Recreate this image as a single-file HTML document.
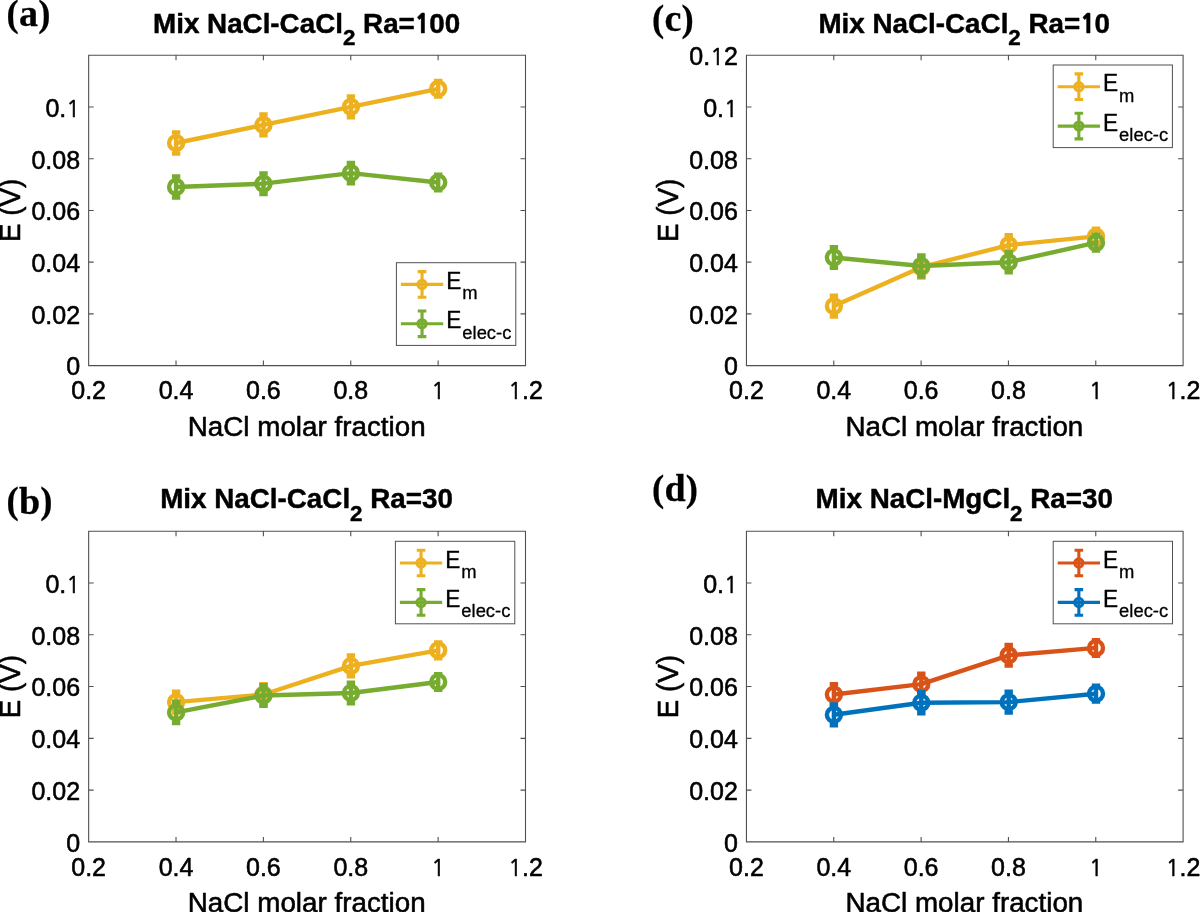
<!DOCTYPE html>
<html lang="en"><head><meta charset="utf-8"><title>Mix NaCl-CaCl2 / MgCl2 potentials</title>
<style>
html,body{margin:0;padding:0;background:#fff;}
body{width:1200px;height:912px;overflow:hidden;}
svg{display:block;}
text{font-family:"Liberation Sans",sans-serif;fill:#000000;stroke:#000000;stroke-width:0.55;stroke-linejoin:round;}
.tk{font-size:25px;}
.lab{font-size:27.8px;}
.ttl{font-size:27.8px;font-weight:bold;fill:#000;stroke-width:0.45;}
.leg{font-size:22.7px;stroke-width:0.3;}
.pl{font-family:"Liberation Serif",serif;font-weight:bold;font-size:38.1px;fill:#000;stroke:#000;stroke-width:0.25;}
.o1{font-family:"NanumGothic","Liberation Sans",sans-serif;font-size:0.91em;}
.o1b{font-family:"NanumGothic","Liberation Sans",sans-serif;font-size:0.9em;font-weight:800;}
.ax{stroke:#505050;stroke-width:1.1;fill:none;}
</style></head><body>
<svg width="1200" height="912" viewBox="0 0 1200 912">
<rect x="0" y="0" width="1200" height="912" fill="#ffffff"/>
<g id="panel-a">
<path class="ax" d="M88.65 55.3H525.5V365.6H88.65ZM88.65 365.6v-5M88.65 55.3v5M176.02 365.6v-5M176.02 55.3v5M263.39 365.6v-5M263.39 55.3v5M350.76 365.6v-5M350.76 55.3v5M438.13 365.6v-5M438.13 55.3v5M525.5 365.6v-5M525.5 55.3v5M88.65 365.6h5M525.5 365.6h-5M88.65 313.88h5M525.5 313.88h-5M88.65 262.17h5M525.5 262.17h-5M88.65 210.45h5M525.5 210.45h-5M88.65 158.73h5M525.5 158.73h-5M88.65 107.02h5M525.5 107.02h-5M88.65 55.3h5M525.5 55.3h-5"/>
<text class="tk" transform="translate(88.65 399.4) scale(1 1.05)" text-anchor="middle">0.2</text>
<text class="tk" transform="translate(176.02 399.4) scale(1 1.05)" text-anchor="middle">0.4</text>
<text class="tk" transform="translate(263.39 399.4) scale(1 1.05)" text-anchor="middle">0.6</text>
<text class="tk" transform="translate(350.76 399.4) scale(1 1.05)" text-anchor="middle">0.8</text>
<text class="tk" transform="translate(438.13 399.4) scale(1 1.05)" text-anchor="middle"><tspan class="o1">1</tspan></text>
<text class="tk" transform="translate(525.5 399.4) scale(1 1.05)" text-anchor="middle"><tspan class="o1">1</tspan>.2</text>
<text class="tk" transform="translate(80.05 375.4) scale(1 1.05)" text-anchor="end">0</text>
<text class="tk" transform="translate(80.05 323.68) scale(1 1.05)" text-anchor="end">0.02</text>
<text class="tk" transform="translate(80.05 271.97) scale(1 1.05)" text-anchor="end">0.04</text>
<text class="tk" transform="translate(80.05 220.25) scale(1 1.05)" text-anchor="end">0.06</text>
<text class="tk" transform="translate(80.05 168.53) scale(1 1.05)" text-anchor="end">0.08</text>
<text class="tk" transform="translate(80.05 116.82) scale(1 1.05)" text-anchor="end">0.<tspan class="o1">1</tspan></text>
<text class="lab" transform="translate(306.68 435.6) scale(1 1.015)" text-anchor="middle">NaCl molar fraction</text>
<text class="lab" transform="translate(20.35 210.45) rotate(-90) scale(1 1.03)" text-anchor="middle">E (V)</text>
<text class="ttl" transform="translate(306.57 32.5) scale(1 1.02)" text-anchor="middle">Mix NaCl-CaCl<tspan dy="12.5" style="font-size:22.4px">2</tspan><tspan dy="-12.5"> Ra=<tspan class="o1b">1</tspan></tspan><tspan dx="-0.8">00</tspan></text>
<text class="pl" transform="translate(6.6 26.3) scale(1 1.02)"><tspan dy="-0.59" style="font-size:36.61px">(</tspan><tspan dx="0.3" dy="0.59">a</tspan><tspan dy="-0.59" style="font-size:36.61px">)</tspan></text>
<g stroke="#EDB120" stroke-width="4.4" fill="none">
<polyline stroke-linejoin="round" points="176.1,143 263.5,124.9 350.9,106.85 438.2,88.8"/>
<path d="M176.1 132.4V153.6M171.9 132.4H180.3M171.9 153.6H180.3M263.5 114.55V135.25M259.3 114.55H267.7M259.3 135.25H267.7M350.9 96.5V117.2M346.7 96.5H355.1M346.7 117.2H355.1M438.2 81V96.6M434 81H442.4M434 96.6H442.4"/>
<circle cx="176.1" cy="143" r="7"/>
<circle cx="263.5" cy="124.9" r="7"/>
<circle cx="350.9" cy="106.85" r="7"/>
<circle cx="438.2" cy="88.8" r="7"/>
</g>
<g stroke="#77AC30" stroke-width="4.4" fill="none">
<polyline stroke-linejoin="round" points="176.1,187 263.5,183.65 350.9,173.1 438.2,182.5"/>
<path d="M176.1 176.5V197.5M171.9 176.5H180.3M171.9 197.5H180.3M263.5 173.35V193.95M259.3 173.35H267.7M259.3 193.95H267.7M350.9 162.9V183.3M346.7 162.9H355.1M346.7 183.3H355.1M438.2 174.7V190.3M434 174.7H442.4M434 190.3H442.4"/>
<circle cx="176.1" cy="187" r="7"/>
<circle cx="263.5" cy="183.65" r="7"/>
<circle cx="350.9" cy="173.1" r="7"/>
<circle cx="438.2" cy="182.5" r="7"/>
</g>
<rect x="396.4" y="262.7" width="119.4" height="82.7" fill="#fff" stroke="#505050" stroke-width="1"/>
<g stroke="#EDB120" stroke-width="3.1" fill="none">
<path d="M400.9 284.4H443.2M422.05 271.6V297.2M417.75 271.6h8.6M417.75 297.2h8.6"/>
<circle cx="422.05" cy="284.4" r="4.1"/>
</g>
<text class="leg" transform="translate(446.2 288.9) scale(1 1.02)">E<tspan dx="1" dy="10.3" style="font-size:18.4px">m</tspan></text>
<g stroke="#77AC30" stroke-width="3.1" fill="none">
<path d="M400.9 323.8H443.2M422.05 311V336.6M417.75 311h8.6M417.75 336.6h8.6"/>
<circle cx="422.05" cy="323.8" r="4.1"/>
</g>
<text class="leg" transform="translate(446.2 328.3) scale(1 1.02)">E<tspan dx="1" dy="10.3" style="font-size:18.4px">elec-c</tspan></text>
</g>
<g id="panel-c">
<path class="ax" d="M746.45 55.3H1183.1V365.6H746.45ZM746.45 365.6v-5M746.45 55.3v5M833.78 365.6v-5M833.78 55.3v5M921.11 365.6v-5M921.11 55.3v5M1008.44 365.6v-5M1008.44 55.3v5M1095.77 365.6v-5M1095.77 55.3v5M1183.1 365.6v-5M1183.1 55.3v5M746.45 365.6h5M1183.1 365.6h-5M746.45 313.88h5M1183.1 313.88h-5M746.45 262.17h5M1183.1 262.17h-5M746.45 210.45h5M1183.1 210.45h-5M746.45 158.73h5M1183.1 158.73h-5M746.45 107.02h5M1183.1 107.02h-5M746.45 55.3h5M1183.1 55.3h-5"/>
<text class="tk" transform="translate(746.45 399.4) scale(1 1.05)" text-anchor="middle">0.2</text>
<text class="tk" transform="translate(833.78 399.4) scale(1 1.05)" text-anchor="middle">0.4</text>
<text class="tk" transform="translate(921.11 399.4) scale(1 1.05)" text-anchor="middle">0.6</text>
<text class="tk" transform="translate(1008.44 399.4) scale(1 1.05)" text-anchor="middle">0.8</text>
<text class="tk" transform="translate(1095.77 399.4) scale(1 1.05)" text-anchor="middle"><tspan class="o1">1</tspan></text>
<text class="tk" transform="translate(1183.1 399.4) scale(1 1.05)" text-anchor="middle"><tspan class="o1">1</tspan>.2</text>
<text class="tk" transform="translate(737.85 375.4) scale(1 1.05)" text-anchor="end">0</text>
<text class="tk" transform="translate(737.85 323.68) scale(1 1.05)" text-anchor="end">0.02</text>
<text class="tk" transform="translate(737.85 271.97) scale(1 1.05)" text-anchor="end">0.04</text>
<text class="tk" transform="translate(737.85 220.25) scale(1 1.05)" text-anchor="end">0.06</text>
<text class="tk" transform="translate(737.85 168.53) scale(1 1.05)" text-anchor="end">0.08</text>
<text class="tk" transform="translate(737.85 116.82) scale(1 1.05)" text-anchor="end">0.<tspan class="o1">1</tspan></text>
<text class="tk" transform="translate(737.85 65.1) scale(1 1.05)" text-anchor="end">0.<tspan class="o1">1</tspan>2</text>
<text class="lab" transform="translate(964.38 435.6) scale(1 1.015)" text-anchor="middle">NaCl molar fraction</text>
<text class="lab" transform="translate(678.15 210.45) rotate(-90) scale(1 1.03)" text-anchor="middle">E (V)</text>
<text class="ttl" transform="translate(964.27 32.5) scale(1 1.02)" text-anchor="middle">Mix NaCl-CaCl<tspan dy="12.5" style="font-size:22.4px">2</tspan><tspan dy="-12.5"> Ra=<tspan class="o1b">1</tspan></tspan><tspan dx="-0.8">0</tspan></text>
<text class="pl" transform="translate(652.1 31.3) scale(1 1.02)"><tspan dy="-0.59" style="font-size:36.61px">(</tspan><tspan dx="0.3" dy="0.59">c</tspan><tspan dy="-0.59" style="font-size:36.61px">)</tspan></text>
<g stroke="#EDB120" stroke-width="4.4" fill="none">
<polyline stroke-linejoin="round" points="833.9,306.1 921.3,267.2 1008.7,245.1 1096,236.4"/>
<path d="M833.9 295.7V316.5M829.7 295.7H838.1M829.7 316.5H838.1M921.3 256.8V277.6M917.1 256.8H925.5M917.1 277.6H925.5M1008.7 235.1V255.1M1004.5 235.1H1012.9M1004.5 255.1H1012.9M1096 228.6V244.2M1091.8 228.6H1100.2M1091.8 244.2H1100.2"/>
<circle cx="833.9" cy="306.1" r="7"/>
<circle cx="921.3" cy="267.2" r="7"/>
<circle cx="1008.7" cy="245.1" r="7"/>
<circle cx="1096" cy="236.4" r="7"/>
</g>
<g stroke="#77AC30" stroke-width="4.4" fill="none">
<polyline stroke-linejoin="round" points="833.9,257.5 921.3,266 1008.7,262.2 1096,242.7"/>
<path d="M833.9 247.1V267.9M829.7 247.1H838.1M829.7 267.9H838.1M921.3 255.5V276.5M917.1 255.5H925.5M917.1 276.5H925.5M1008.7 252.1V272.3M1004.5 252.1H1012.9M1004.5 272.3H1012.9M1096 234.8V250.6M1091.8 234.8H1100.2M1091.8 250.6H1100.2"/>
<circle cx="833.9" cy="257.5" r="7"/>
<circle cx="921.3" cy="266" r="7"/>
<circle cx="1008.7" cy="262.2" r="7"/>
<circle cx="1096" cy="242.7" r="7"/>
</g>
<rect x="1053.2" y="65" width="119.2" height="82.6" fill="#fff" stroke="#505050" stroke-width="1"/>
<g stroke="#EDB120" stroke-width="3.1" fill="none">
<path d="M1057.7 86.7H1100M1078.85 73.9V99.5M1074.55 73.9h8.6M1074.55 99.5h8.6"/>
<circle cx="1078.85" cy="86.7" r="4.1"/>
</g>
<text class="leg" transform="translate(1103 91.2) scale(1 1.02)">E<tspan dx="1" dy="10.3" style="font-size:18.4px">m</tspan></text>
<g stroke="#77AC30" stroke-width="3.1" fill="none">
<path d="M1057.7 126.1H1100M1078.85 113.3V138.9M1074.55 113.3h8.6M1074.55 138.9h8.6"/>
<circle cx="1078.85" cy="126.1" r="4.1"/>
</g>
<text class="leg" transform="translate(1103 130.6) scale(1 1.02)">E<tspan dx="1" dy="10.3" style="font-size:18.4px">elec-c</tspan></text>
</g>
<g id="panel-b">
<path class="ax" d="M88.65 531.2H525.5V841.9H88.65ZM88.65 841.9v-5M88.65 531.2v5M176.02 841.9v-5M176.02 531.2v5M263.39 841.9v-5M263.39 531.2v5M350.76 841.9v-5M350.76 531.2v5M438.13 841.9v-5M438.13 531.2v5M525.5 841.9v-5M525.5 531.2v5M88.65 841.9h5M525.5 841.9h-5M88.65 790.12h5M525.5 790.12h-5M88.65 738.33h5M525.5 738.33h-5M88.65 686.55h5M525.5 686.55h-5M88.65 634.77h5M525.5 634.77h-5M88.65 582.98h5M525.5 582.98h-5M88.65 531.2h5M525.5 531.2h-5"/>
<text class="tk" transform="translate(88.65 875.7) scale(1 1.05)" text-anchor="middle">0.2</text>
<text class="tk" transform="translate(176.02 875.7) scale(1 1.05)" text-anchor="middle">0.4</text>
<text class="tk" transform="translate(263.39 875.7) scale(1 1.05)" text-anchor="middle">0.6</text>
<text class="tk" transform="translate(350.76 875.7) scale(1 1.05)" text-anchor="middle">0.8</text>
<text class="tk" transform="translate(438.13 875.7) scale(1 1.05)" text-anchor="middle"><tspan class="o1">1</tspan></text>
<text class="tk" transform="translate(525.5 875.7) scale(1 1.05)" text-anchor="middle"><tspan class="o1">1</tspan>.2</text>
<text class="tk" transform="translate(80.05 851.7) scale(1 1.05)" text-anchor="end">0</text>
<text class="tk" transform="translate(80.05 799.92) scale(1 1.05)" text-anchor="end">0.02</text>
<text class="tk" transform="translate(80.05 748.13) scale(1 1.05)" text-anchor="end">0.04</text>
<text class="tk" transform="translate(80.05 696.35) scale(1 1.05)" text-anchor="end">0.06</text>
<text class="tk" transform="translate(80.05 644.57) scale(1 1.05)" text-anchor="end">0.08</text>
<text class="tk" transform="translate(80.05 592.78) scale(1 1.05)" text-anchor="end">0.<tspan class="o1">1</tspan></text>
<text class="lab" transform="translate(306.68 911.9) scale(1 1.015)" text-anchor="middle">NaCl molar fraction</text>
<text class="lab" transform="translate(20.35 686.55) rotate(-90) scale(1 1.03)" text-anchor="middle">E (V)</text>
<text class="ttl" transform="translate(306.57 508.4) scale(1 1.02)" text-anchor="middle">Mix NaCl-CaCl<tspan dy="12.5" style="font-size:22.4px">2</tspan><tspan dy="-12.5"> Ra=30</tspan></text>
<text class="pl" transform="translate(6.6 513.7) scale(1 1.02)"><tspan dy="-0.59" style="font-size:36.61px">(</tspan><tspan dx="0.3" dy="0.59">b</tspan><tspan dy="-0.59" style="font-size:36.61px">)</tspan></text>
<g stroke="#EDB120" stroke-width="4.4" fill="none">
<polyline stroke-linejoin="round" points="176.1,702.1 263.5,694.5 350.9,665.9 438.2,650.3"/>
<path d="M176.1 691.7V712.5M171.9 691.7H180.3M171.9 712.5H180.3M263.5 684.1V704.9M259.3 684.1H267.7M259.3 704.9H267.7M350.9 655.5V676.3M346.7 655.5H355.1M346.7 676.3H355.1M438.2 642.4V658.2M434 642.4H442.4M434 658.2H442.4"/>
<circle cx="176.1" cy="702.1" r="7"/>
<circle cx="263.5" cy="694.5" r="7"/>
<circle cx="350.9" cy="665.9" r="7"/>
<circle cx="438.2" cy="650.3" r="7"/>
</g>
<g stroke="#77AC30" stroke-width="4.4" fill="none">
<polyline stroke-linejoin="round" points="176.1,712.4 263.5,695.5 350.9,693 438.2,682"/>
<path d="M176.1 701.8V723M171.9 701.8H180.3M171.9 723H180.3M263.5 685.1V705.9M259.3 685.1H267.7M259.3 705.9H267.7M350.9 682.8V703.2M346.7 682.8H355.1M346.7 703.2H355.1M438.2 674.1V689.9M434 674.1H442.4M434 689.9H442.4"/>
<circle cx="176.1" cy="712.4" r="7"/>
<circle cx="263.5" cy="695.5" r="7"/>
<circle cx="350.9" cy="693" r="7"/>
<circle cx="438.2" cy="682" r="7"/>
</g>
<rect x="395.4" y="541.3" width="119.4" height="82.5" fill="#fff" stroke="#505050" stroke-width="1"/>
<g stroke="#EDB120" stroke-width="3.1" fill="none">
<path d="M399.9 563H442.2M421.05 550.2V575.8M416.75 550.2h8.6M416.75 575.8h8.6"/>
<circle cx="421.05" cy="563" r="4.1"/>
</g>
<text class="leg" transform="translate(445.2 567.5) scale(1 1.02)">E<tspan dx="1" dy="10.3" style="font-size:18.4px">m</tspan></text>
<g stroke="#77AC30" stroke-width="3.1" fill="none">
<path d="M399.9 602.4H442.2M421.05 589.6V615.2M416.75 589.6h8.6M416.75 615.2h8.6"/>
<circle cx="421.05" cy="602.4" r="4.1"/>
</g>
<text class="leg" transform="translate(445.2 606.9) scale(1 1.02)">E<tspan dx="1" dy="10.3" style="font-size:18.4px">elec-c</tspan></text>
</g>
<g id="panel-d">
<path class="ax" d="M746.45 531.2H1183.1V841.9H746.45ZM746.45 841.9v-5M746.45 531.2v5M833.78 841.9v-5M833.78 531.2v5M921.11 841.9v-5M921.11 531.2v5M1008.44 841.9v-5M1008.44 531.2v5M1095.77 841.9v-5M1095.77 531.2v5M1183.1 841.9v-5M1183.1 531.2v5M746.45 841.9h5M1183.1 841.9h-5M746.45 790.12h5M1183.1 790.12h-5M746.45 738.33h5M1183.1 738.33h-5M746.45 686.55h5M1183.1 686.55h-5M746.45 634.77h5M1183.1 634.77h-5M746.45 582.98h5M1183.1 582.98h-5M746.45 531.2h5M1183.1 531.2h-5"/>
<text class="tk" transform="translate(746.45 875.7) scale(1 1.05)" text-anchor="middle">0.2</text>
<text class="tk" transform="translate(833.78 875.7) scale(1 1.05)" text-anchor="middle">0.4</text>
<text class="tk" transform="translate(921.11 875.7) scale(1 1.05)" text-anchor="middle">0.6</text>
<text class="tk" transform="translate(1008.44 875.7) scale(1 1.05)" text-anchor="middle">0.8</text>
<text class="tk" transform="translate(1095.77 875.7) scale(1 1.05)" text-anchor="middle"><tspan class="o1">1</tspan></text>
<text class="tk" transform="translate(1183.1 875.7) scale(1 1.05)" text-anchor="middle"><tspan class="o1">1</tspan>.2</text>
<text class="tk" transform="translate(737.85 851.7) scale(1 1.05)" text-anchor="end">0</text>
<text class="tk" transform="translate(737.85 799.92) scale(1 1.05)" text-anchor="end">0.02</text>
<text class="tk" transform="translate(737.85 748.13) scale(1 1.05)" text-anchor="end">0.04</text>
<text class="tk" transform="translate(737.85 696.35) scale(1 1.05)" text-anchor="end">0.06</text>
<text class="tk" transform="translate(737.85 644.57) scale(1 1.05)" text-anchor="end">0.08</text>
<text class="tk" transform="translate(737.85 592.78) scale(1 1.05)" text-anchor="end">0.<tspan class="o1">1</tspan></text>
<text class="lab" transform="translate(964.38 911.9) scale(1 1.015)" text-anchor="middle">NaCl molar fraction</text>
<text class="lab" transform="translate(678.15 686.55) rotate(-90) scale(1 1.03)" text-anchor="middle">E (V)</text>
<text class="ttl" transform="translate(964.27 508.4) scale(1 1.02)" text-anchor="middle">Mix NaCl-MgCl<tspan dy="12.5" style="font-size:22.4px">2</tspan><tspan dy="-12.5"> Ra=30</tspan></text>
<text class="pl" transform="translate(652.1 501.3) scale(1 1.02)"><tspan dy="-0.59" style="font-size:36.61px">(</tspan><tspan dx="0.3" dy="0.59">d</tspan><tspan dy="-0.59" style="font-size:36.61px">)</tspan></text>
<g stroke="#D95319" stroke-width="4.4" fill="none">
<polyline stroke-linejoin="round" points="833.9,694.5 921.3,684.1 1008.7,655.3 1096,647.9"/>
<path d="M833.9 684.1V704.9M829.7 684.1H838.1M829.7 704.9H838.1M921.3 673.7V694.5M917.1 673.7H925.5M917.1 694.5H925.5M1008.7 645V665.6M1004.5 645H1012.9M1004.5 665.6H1012.9M1096 640.1V655.7M1091.8 640.1H1100.2M1091.8 655.7H1100.2"/>
<circle cx="833.9" cy="694.5" r="7"/>
<circle cx="921.3" cy="684.1" r="7"/>
<circle cx="1008.7" cy="655.3" r="7"/>
<circle cx="1096" cy="647.9" r="7"/>
</g>
<g stroke="#0072BD" stroke-width="4.4" fill="none">
<polyline stroke-linejoin="round" points="833.9,714.8 921.3,702.7 1008.7,702.1 1096,693.7"/>
<path d="M833.9 704.4V725.2M829.7 704.4H838.1M829.7 725.2H838.1M921.3 692.2V713.2M917.1 692.2H925.5M917.1 713.2H925.5M1008.7 691.7V712.5M1004.5 691.7H1012.9M1004.5 712.5H1012.9M1096 685.8V701.6M1091.8 685.8H1100.2M1091.8 701.6H1100.2"/>
<circle cx="833.9" cy="714.8" r="7"/>
<circle cx="921.3" cy="702.7" r="7"/>
<circle cx="1008.7" cy="702.1" r="7"/>
<circle cx="1096" cy="693.7" r="7"/>
</g>
<rect x="1053.2" y="541.3" width="119.3" height="82.5" fill="#fff" stroke="#505050" stroke-width="1"/>
<g stroke="#D95319" stroke-width="3.1" fill="none">
<path d="M1057.7 563H1100M1078.85 550.2V575.8M1074.55 550.2h8.6M1074.55 575.8h8.6"/>
<circle cx="1078.85" cy="563" r="4.1"/>
</g>
<text class="leg" transform="translate(1103 567.5) scale(1 1.02)">E<tspan dx="1" dy="10.3" style="font-size:18.4px">m</tspan></text>
<g stroke="#0072BD" stroke-width="3.1" fill="none">
<path d="M1057.7 602.4H1100M1078.85 589.6V615.2M1074.55 589.6h8.6M1074.55 615.2h8.6"/>
<circle cx="1078.85" cy="602.4" r="4.1"/>
</g>
<text class="leg" transform="translate(1103 606.9) scale(1 1.02)">E<tspan dx="1" dy="10.3" style="font-size:18.4px">elec-c</tspan></text>
</g>
</svg>
</body></html>
